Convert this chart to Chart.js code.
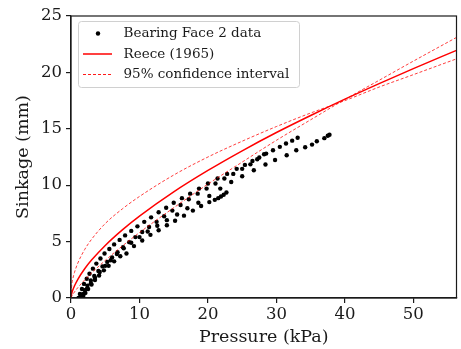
<!DOCTYPE html>
<html>
<head>
<meta charset="utf-8">
<script src="https://cdn.jsdelivr.net/npm/chart.js@4.4.1/dist/chart.umd.min.js"></script>
<style>
  html, body { margin: 0; padding: 0; background: #fff; }
  canvas { display: block; }
</style>
</head>
<body>
<canvas id="c" width="461" height="349"></canvas>
<script>
// ---- Data ----
const xTitle = "Pressure (kPa)";
const yTitle = "Sinkage (mm)";
const xTicks = [0, 10, 20, 30, 40, 50];
const yTicks = [0, 5, 10, 15, 20, 25];
const xMax = 56.3;
const yMax = 25;

const labelData = "Bearing Face 2 data";
const labelModel = "Reece (1965)";
const labelCI = "95% confidence interval";

// measured runs (pressure kPa, sinkage mm)
const runAx = [1.1,1.3,1.6,1.9,2.3,2.7,3.2,3.7,4.3,4.9,5.6,6.3,7.1,7.9,8.8,9.7,10.7,11.7,12.8,13.9,15.0,16.2,17.4,18.7,20.0,21.4,22.8,24.2,25.4,26.5,27.5,28.5,29.5,30.5,31.4,32.3,33.1];
const runAy = [0.0,0.35,0.8,1.25,1.7,2.15,2.6,3.05,3.5,3.95,4.35,4.75,5.15,5.55,5.95,6.35,6.75,7.15,7.6,8.0,8.45,8.85,9.25,9.7,10.15,10.6,11.0,11.45,11.8,12.15,12.45,12.8,13.1,13.4,13.7,13.95,14.2];

const runDx = [1.3,1.6,2.0,2.4,2.9,3.4,4.0,4.6,5.3,6.0,6.8,7.6,8.5,9.4,10.4,11.4,12.5,13.6,14.8,16.0,17.2,18.5,19.8,21.1,22.4,23.7,25.0,26.2,27.2,28.2];
const runDy = [0.0,0.3,0.7,1.1,1.55,1.95,2.4,2.8,3.2,3.6,4.05,4.5,4.95,5.4,5.85,6.3,6.75,7.25,7.75,8.25,8.75,9.25,9.7,10.15,10.6,11.0,11.45,11.85,12.3,12.75];

const runBx = [1.4,1.8,2.3,2.9,3.5,4.2,5.0,5.8,6.7,7.7,8.8,10.0,11.2,12.6,14.0,15.5,17.0,18.6,20.2,21.8,23.4,25.0,26.7,28.4,29.8,31.5,32.9,34.2,35.2,35.9,37.0,37.5,37.75];
const runBy = [0.0,0.35,0.8,1.3,1.8,2.3,2.85,3.35,3.9,4.4,4.9,5.4,5.9,6.4,6.9,7.4,7.95,8.45,9.05,9.7,10.28,10.79,11.33,11.83,12.24,12.66,13.1,13.37,13.6,13.9,14.17,14.38,14.47];

const runCx = [1.5,1.8,2.1,2.5,3.0,3.5,4.1,4.8,5.5,6.3,7.2,8.1,9.2,10.4,11.6,12.8,14.0,15.2,16.5,17.8,19.0,20.2,21.0,21.5,21.9,22.3,22.7];
const runCy = [0.0,0.2,0.45,0.8,1.2,1.6,2.0,2.45,2.85,3.25,3.7,3.95,4.6,5.1,5.6,6.0,6.45,6.85,7.3,7.75,8.15,8.5,8.7,8.85,9.0,9.15,9.35];

// model curve and confidence bounds, read at these pressures
const curveX  = [0, 0.1, 0.25, 0.5, 1, 2, 3, 5, 7.5, 10, 15, 20, 25, 30, 35, 40, 45, 50, 56.3];
const reeceY  = [0, 0.38, 0.68, 1.07, 1.66, 2.59, 3.36, 4.66, 6.04, 7.26, 9.41, 11.31, 13.05, 14.67, 16.18, 17.63, 19.01, 20.34, 21.95];
const ciUpperLeftY = [0, 1.1, 1.65, 2.25, 3.1, 4.3, 5.2, 6.6, 7.9, 9.0, 10.9, 12.5, 13.9, 15.2, 16.4, 17.5, 18.7, 19.8, 21.2];
const ciLowerLeftY = [0, 0.15, 0.30, 0.53, 0.92, 1.6, 2.21, 3.33, 4.61, 5.8, 8.0, 10.1, 12.05, 13.98, 15.8, 17.6, 19.3, 21.0, 23.1];

// ---- build datasets ----
const toPts = (xs, ys) => xs.map((x, i) => ({ x: x, y: ys[i] }));
const scatterPts = [].concat(
  toPts(runAx, runAy), toPts(runDx, runDy), toPts(runBx, runBy), toPts(runCx, runCy)
);

const FONT = "'DejaVu Serif', serif";
const INK = '#1a1a1a';

const framePlugin = {
  id: 'frame',
  afterDatasetsDraw(chart) {
    const { ctx, chartArea: a } = chart;
    ctx.save();
    ctx.strokeStyle = INK;
    ctx.lineWidth = 1.2;
    ctx.strokeRect(a.left, a.top, a.right - a.left, a.bottom - a.top);
    ctx.restore();
  }
};

const legendPlugin = {
  id: 'boxLegend',
  afterDraw(chart) {
    const { ctx } = chart;
    const bx = 78.5, by = 21.5, bw = 221, bh = 66, r = 3;
    ctx.save();
    ctx.beginPath();
    ctx.moveTo(bx + r, by);
    ctx.arcTo(bx + bw, by, bx + bw, by + bh, r);
    ctx.arcTo(bx + bw, by + bh, bx, by + bh, r);
    ctx.arcTo(bx, by + bh, bx, by, r);
    ctx.arcTo(bx, by, bx + bw, by, r);
    ctx.closePath();
    ctx.fillStyle = 'rgba(255,255,255,0.8)';
    ctx.fill();
    ctx.strokeStyle = '#d0d0d0';
    ctx.lineWidth = 1;
    ctx.stroke();

    const rows = [33.5, 54, 74.5];
    const x0 = 83, x1 = 112, tx = 123.5;
    // marker
    ctx.fillStyle = '#000';
    ctx.beginPath();
    ctx.arc(98, rows[0], 2.2, 0, Math.PI * 2);
    ctx.fill();
    // solid
    ctx.strokeStyle = '#ff0000';
    ctx.lineWidth = 1.5;
    ctx.beginPath(); ctx.moveTo(x0, rows[1]); ctx.lineTo(x1, rows[1]); ctx.stroke();
    // dashed
    ctx.lineWidth = 0.9;
    ctx.setLineDash([3, 2]);
    ctx.beginPath(); ctx.moveTo(x0, rows[2]); ctx.lineTo(x1, rows[2]); ctx.stroke();
    ctx.setLineDash([]);

    ctx.fillStyle = INK;
    ctx.font = "13.5px " + FONT;
    ctx.textBaseline = 'middle';
    ctx.textAlign = 'left';
    ctx.fillText(labelData, tx, rows[0]);
    ctx.fillText(labelModel, tx, rows[1]);
    ctx.fillText(labelCI, tx, rows[2]);
    ctx.restore();
  }
};

new Chart(document.getElementById('c'), {
  type: 'scatter',
  data: {
    datasets: [
      { label: labelModel, data: toPts(curveX, reeceY), showLine: true, pointRadius: 0,
        borderColor: '#ff0000', borderWidth: 1.5, cubicInterpolationMode: 'monotone', order: 1 },
      { label: labelCI, data: toPts(curveX, ciUpperLeftY), showLine: true, pointRadius: 0,
        borderColor: 'rgba(255,0,0,0.85)', borderWidth: 0.9, borderDash: [3, 2],
        cubicInterpolationMode: 'monotone', order: 1 },
      { label: labelCI, data: toPts(curveX, ciLowerLeftY), showLine: true, pointRadius: 0,
        borderColor: 'rgba(255,0,0,0.85)', borderWidth: 0.9, borderDash: [3, 2],
        cubicInterpolationMode: 'monotone', order: 1 },
      { label: labelData, data: scatterPts, pointRadius: 2.2, pointBackgroundColor: '#000',
        pointBorderWidth: 0, borderColor: '#000', order: 2 }
    ]
  },
  options: {
    responsive: false,
    animation: false,
    events: [],
    layout: { padding: { left: 0, right: 4.5, top: 16, bottom: 0 } },
    plugins: { legend: { display: false }, tooltip: { enabled: false } },
    scales: {
      x: {
        type: 'linear', min: 0, max: xMax,
        afterBuildTicks: s => { s.ticks = xTicks.map(v => ({ value: v })); },
        afterFit: s => { s.height = 51; },
        ticks: { font: { family: FONT, size: 16.5 }, color: INK, padding: 2, maxRotation: 0, autoSkip: false },
        grid: { drawOnChartArea: false, tickLength: 5, color: INK, lineWidth: 1.2 },
        border: { display: true, color: INK, width: 1.2 },
        title: { display: true, text: xTitle, font: { family: FONT, size: 17.5 }, color: INK, padding: { top: 0, bottom: 1 } }
      },
      y: {
        type: 'linear', min: 0, max: yMax,
        afterBuildTicks: s => { s.ticks = yTicks.map(v => ({ value: v })); },
        afterFit: s => { s.width = 71; },
        ticks: { font: { family: FONT, size: 16.5 }, color: INK, padding: 4, autoSkip: false },
        grid: { drawOnChartArea: false, tickLength: 5, color: INK, lineWidth: 1.2 },
        border: { display: true, color: INK, width: 1.2 },
        title: { display: true, text: yTitle, font: { family: FONT, size: 17.5 }, color: INK, padding: { top: 13, bottom: 0 } }
      }
    }
  },
  plugins: [framePlugin, legendPlugin]
});
</script>
</body>
</html>
